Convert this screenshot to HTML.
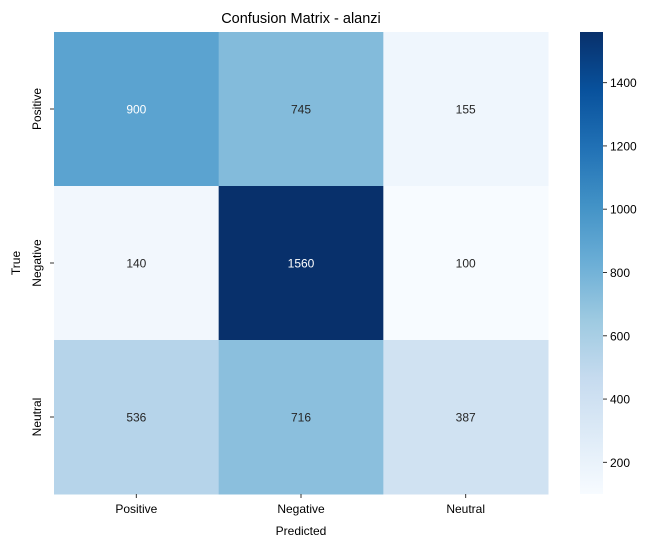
<!DOCTYPE html>
<html><head><meta charset="utf-8"><style>
body{margin:0;background:#fff;}
svg text{font-family:"Liberation Sans","DejaVu Sans",sans-serif;}
</style></head><body>
<svg id="chart" width="658" height="547" xmlns="http://www.w3.org/2000/svg">
<defs><linearGradient id="cbg" x1="0" y1="1" x2="0" y2="0">
<stop offset="0" stop-color="#f7fbff"/><stop offset="0.125" stop-color="#deebf7"/><stop offset="0.25" stop-color="#c6dbef"/><stop offset="0.375" stop-color="#9ecae1"/><stop offset="0.5" stop-color="#6baed6"/><stop offset="0.625" stop-color="#4292c6"/><stop offset="0.75" stop-color="#2171b5"/><stop offset="0.875" stop-color="#08519c"/><stop offset="1" stop-color="#08306b"/>
</linearGradient></defs>
<text x="301" y="23" text-anchor="middle" font-size="14.5">Confusion Matrix - alanzi</text>
<g id="cells"></g>
<rect x="580" y="32" width="23" height="462" fill="url(#cbg)"/>
<g id="cbticks"></g>
<text x="301" y="535" text-anchor="middle" font-size="12">Predicted</text>
<text transform="translate(20,263) rotate(-90)" text-anchor="middle" font-size="12">True</text>
</svg>
<script>
const categories = ["Positive","Negative","Neutral"];
const values = [[900,745,155],[140,1560,100],[536,716,387]];
const colorbarTicks = [200,400,600,800,1000,1200,1400];
const vmin = 100, vmax = 1560;
const X0=54,X1=548,Y0=32,Y1=494;
const stops=["#f7fbff","#deebf7","#c6dbef","#9ecae1","#6baed6","#4292c6","#2171b5","#08519c","#08306b"].map(h=>[1,3,5].map(i=>parseInt(h.substr(i,2),16)));
function color(v){let t=Math.max(0,Math.min(1,(v-vmin)/(vmax-vmin)))*8;let i=Math.min(7,Math.floor(t)),f=t-i;const c=stops[i].map((a,k)=>a+(stops[i+1][k]-a)*f);return c;}
const ns="http://www.w3.org/2000/svg";
const cw=(X1-X0)/categories.length,ch=(Y1-Y0)/categories.length;
const g=document.getElementById('cells');
const svg=document.getElementById('chart');
function mk(t,a,p){const e=document.createElementNS(ns,t);for(const k in a)e.setAttribute(k,a[k]);(p||svg).appendChild(e);return e;}
values.forEach((row,r)=>row.forEach((v,c)=>{
 const col=color(v);
 const rect=mk('rect',{x:X0+c*cw,y:Y0+r*ch,width:cw+0.5,height:ch+0.5,fill:`rgb(${col.map(Math.round).join(',')})`},g);
 
 
 const lum=(0.299*col[0]+0.587*col[1]+0.114*col[2])/255;
 const tx=mk('text',{x:X0+(c+0.5)*cw,y:Y0+(r+0.5)*ch+4.5,'text-anchor':'middle','font-size':'12',fill:lum<0.62?'#fff':'#262626'},g);
 tx.textContent=v;
 
 
}));
categories.forEach((cat,i)=>{
 const x=X0+(i+0.5)*cw;
 mk('line',{x1:x,x2:x,y1:Y1,y2:Y1+4,stroke:'#333'});
 const t=mk('text',{x:x,y:Y1+19,'text-anchor':'middle','font-size':'12'});
 t.textContent=cat;
 
 
 const y=Y0+(i+0.5)*ch;
 mk('line',{x1:X0-4,x2:X0,y1:y,y2:y,stroke:'#333'});
 const t2=mk('text',{transform:`translate(${X0-13},${y}) rotate(-90)`,'text-anchor':'middle','font-size':'12'});
 t2.textContent=cat;
 
 
});
const cb=document.getElementById('cbticks');
colorbarTicks.forEach(v=>{
 const y=Y1-(v-vmin)/(vmax-vmin)*(Y1-Y0);
 mk('line',{x1:603,x2:607,y1:y,y2:y,stroke:'#333'},cb);
 const t=mk('text',{x:610,y:y+4.5,'font-size':'12'},cb);
 t.textContent=v;
 
 
});
</script>
</body></html>
